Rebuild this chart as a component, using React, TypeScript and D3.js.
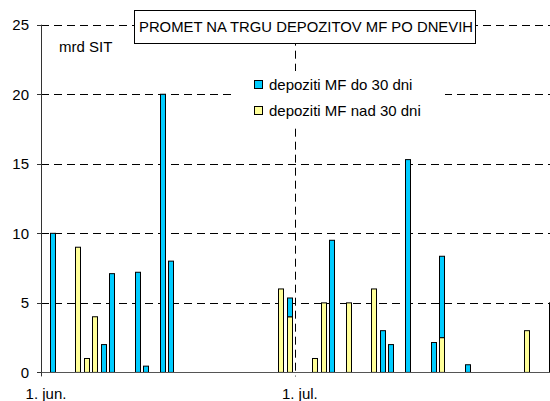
import React, { useRef, useEffect } from "react";
import * as d3 from "d3";

// trading days (2002) and volumes in mrd SIT
const days = [
  "2002-06-02", "2002-06-05", "2002-06-06", "2002-06-07", "2002-06-08",
  "2002-06-09", "2002-06-12", "2002-06-13", "2002-06-15", "2002-06-16",
  "2002-06-29", "2002-06-30", "2002-07-03", "2002-07-04", "2002-07-05",
  "2002-07-07", "2002-07-10", "2002-07-11", "2002-07-12", "2002-07-14",
  "2002-07-17", "2002-07-18", "2002-07-21", "2002-07-28", "2002-07-31",
];
const nad30 = [0, 9, 1, 4, 0, 0, 0, 0, 0, 0, 6, 4, 1, 5, 0, 5, 6, 0, 0, 0, 0, 2.5, 0, 3, 5];
const do30 = [10, 0, 0, 0, 2, 7.1, 7.2, 0.45, 20, 8, 0, 1.35, 0, 0, 9.5, 0, 0, 3, 2, 15.3, 2.15, 5.85, 0.55, 0, 0];

const yTicks = [0, 5, 10, 15, 20, 25];
const monthTicks = ["2002-06-01", "2002-07-01"];
const monthLabels = ["1. jun.", "1. jul."];
const seriesNames = ["depoziti MF do 30 dni", "depoziti MF nad 30 dni"];
const title = "PROMET NA TRGU DEPOZITOV MF PO DNEVIH";

const BLUE = "#00ccff";
const YELLOW = "#ffff99";
const FONT = "'Liberation Sans', Arial, sans-serif";

const App = () => {
  const svgRef = useRef<SVGSVGElement>(null);
  const width = 550;
  const height = 401;

  useEffect(() => {
    const svg = d3.select(svgRef.current);
    svg.selectAll("*").remove();

    const parse = d3.timeParse("%Y-%m-%d");
    const x = d3.scaleTime()
      .domain([parse("2002-06-01")!, parse("2002-08-01")!])
      .range([40.8, 40.8 + 61 * 8.46]);
    const y = d3.scaleLinear().domain([0, 25]).range([372.4, 24.7]);
    const left = 41;
    const dayCenter = (d: Date) => x(d3.timeHour.offset(d, 12));

    const data = days.map((d, i) => ({
      date: parse(d)!,
      nad: nad30[i],
      doo: do30[i],
    }));

    // horizontal dashed gridlines
    svg.append("g")
      .selectAll("line")
      .data(yTicks.filter(t => t > 0))
      .join("line")
      .attr("x1", left)
      .attr("x2", width)
      .attr("y1", d => Math.round(y(d)) + 0.5)
      .attr("y2", d => Math.round(y(d)) + 0.5)
      .attr("stroke", "#000")
      .attr("stroke-dasharray", "8,5");

    // vertical month line (1. jul.)
    const jul = x(parse(monthTicks[1])!);
    svg.append("line")
      .attr("x1", Math.round(jul) + 0.5)
      .attr("x2", Math.round(jul) + 0.5)
      .attr("y1", y(25))
      .attr("y2", y(0) + 4)
      .attr("stroke", "#000")
      .attr("stroke-dasharray", "8,5");

    // title box
    svg.append("rect")
      .attr("x", 134.5).attr("y", 10.5)
      .attr("width", 341).attr("height", 33)
      .attr("fill", "#fff").attr("stroke", "#000");
    svg.append("text")
      .attr("x", 139).attr("y", 31.5)
      .attr("font-family", FONT).attr("font-size", 15)
      .attr("textLength", 334).attr("lengthAdjust", "spacingAndGlyphs")
      .text(title);

    // legend
    const lg = svg.append("g");
    lg.append("rect")
      .attr("x", 234).attr("y", 71).attr("width", 211).attr("height", 53)
      .attr("fill", "#fff");
    [BLUE, YELLOW].forEach((c, i) => {
      lg.append("rect")
        .attr("x", 254.5).attr("y", 80.5 + i * 26)
        .attr("width", 8).attr("height", 8)
        .attr("fill", c).attr("stroke", "#000");
      lg.append("text")
        .attr("x", 269).attr("y", 89.5 + i * 26)
        .attr("font-family", FONT).attr("font-size", 15)
        .text(seriesNames[i]);
    });

    svg.append("text")
      .attr("x", 59).attr("y", 52)
      .attr("font-family", FONT).attr("font-size", 15)
      .text("mrd SIT");

    // bars: yellow at the bottom, blue stacked on top
    const barW = 5;
    const barX = (d: Date) => Math.floor(dayCenter(d) - 3) + 0.5;
    const bars = svg.append("g").attr("stroke", "#000").attr("stroke-width", 1);
    bars.selectAll("rect.nad")
      .data(data.filter(d => d.nad > 0))
      .join("rect")
      .attr("class", "nad")
      .attr("x", d => barX(d.date))
      .attr("y", d => y(d.nad))
      .attr("width", barW)
      .attr("height", d => y(0) - y(d.nad))
      .attr("fill", YELLOW);
    bars.selectAll("rect.do")
      .data(data.filter(d => d.doo > 0))
      .join("rect")
      .attr("class", "do")
      .attr("x", d => barX(d.date))
      .attr("y", d => y(d.nad + d.doo))
      .attr("width", barW)
      .attr("height", d => y(d.nad) - y(d.nad + d.doo))
      .attr("fill", BLUE);

    // y axis
    const ya = svg.append("g");
    ya.append("line")
      .attr("x1", left + 0.5).attr("x2", left + 0.5)
      .attr("y1", y(25)).attr("y2", y(0))
      .attr("stroke", "#333");
    ya.selectAll("line.tick")
      .data(yTicks)
      .join("line")
      .attr("class", "tick")
      .attr("x1", left - 4).attr("x2", left)
      .attr("y1", d => Math.round(y(d)) + 0.5)
      .attr("y2", d => Math.round(y(d)) + 0.5)
      .attr("stroke", "#333");
    ya.selectAll("text")
      .data(yTicks)
      .join("text")
      .attr("x", 29)
      .attr("y", d => y(d) + 5.5)
      .attr("text-anchor", "end")
      .attr("font-family", FONT).attr("font-size", 15)
      .text(d => d);

    // x axis
    svg.append("line")
      .attr("x1", left).attr("x2", width)
      .attr("y1", Math.round(y(0)) + 0.5).attr("y2", Math.round(y(0)) + 0.5)
      .attr("stroke", "#555");
    svg.append("line")
      .attr("x1", left + 0.5).attr("x2", left + 0.5)
      .attr("y1", y(0)).attr("y2", y(0) + 4)
      .attr("stroke", "#333");
    svg.append("g")
      .selectAll("text")
      .data(monthTicks)
      .join("text")
      .attr("x", d => dayCenter(parse(d)!) + 1)
      .attr("y", 399)
      .attr("text-anchor", "middle")
      .attr("font-family", FONT).attr("font-size", 15)
      .text((d, i) => monthLabels[i]);
  }, []);

  return (
    <svg
      ref={svgRef}
      width={width}
      height={height}
      style={{ position: "absolute", left: 0, top: 0, background: "#fff" }}
    />
  );
};

export default App;
